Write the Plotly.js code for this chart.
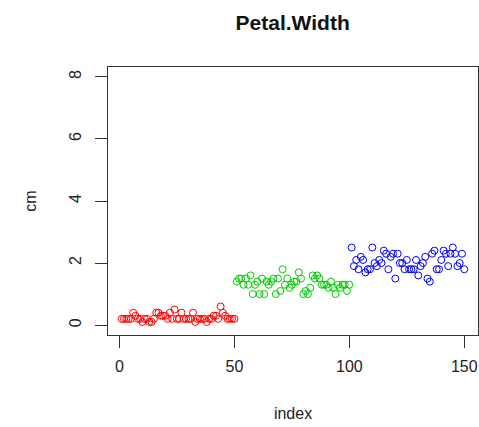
<!DOCTYPE html>
<html><head><meta charset="utf-8">
<script src="https://cdn.plot.ly/plotly-3.0.1.min.js"></script>
<style>html,body{margin:0;padding:0;background:#fff}#c{width:479px;height:427px}</style>
</head><body><div id="c"></div>
<script>
const setosa = [0.2,0.2,0.2,0.2,0.2,0.4,0.3,0.2,0.2,0.1,
0.2,0.2,0.1,0.1,0.2,0.4,0.4,0.3,0.3,0.3,
0.2,0.4,0.2,0.5,0.2,0.2,0.4,0.2,0.2,0.2,
0.2,0.4,0.1,0.2,0.2,0.2,0.2,0.1,0.2,0.2,
0.3,0.3,0.2,0.6,0.4,0.3,0.2,0.2,0.2,0.2];
const versicolor = [1.4,1.5,1.5,1.3,1.5,1.3,1.6,1.0,1.3,1.4,
1.0,1.5,1.0,1.4,1.3,1.4,1.5,1.0,1.5,1.1,
1.8,1.3,1.5,1.2,1.3,1.4,1.4,1.7,1.5,1.0,
1.1,1.0,1.2,1.6,1.5,1.6,1.5,1.3,1.3,1.3,
1.2,1.4,1.2,1.0,1.3,1.2,1.3,1.3,1.1,1.3];
const virginica = [2.5,1.9,2.1,1.8,2.2,2.1,1.7,1.8,1.8,2.5,
2.0,1.9,2.1,2.0,2.4,2.3,1.8,2.2,2.3,1.5,
2.3,2.0,2.0,1.8,2.1,1.8,1.8,1.8,2.1,1.6,
1.9,2.0,2.2,1.5,1.4,2.3,2.4,1.8,1.8,2.1,
2.4,2.3,1.9,2.3,2.5,2.3,1.9,2.0,2.3,1.8];
const groups = [setosa, versicolor, virginica];
const colors = ['#FF0000', '#00CD00', '#0000FF'];
const xTicks = [0, 50, 100, 150];
const yTicks = [0, 2, 4, 6, 8];

const traces = groups.map((vals, g) => ({
  type: 'scatter', mode: 'markers',
  x: vals.map((v, i) => g * 50 + i + 1),
  y: vals,
  marker: {symbol: 'circle-open', size: 7, color: colors[g], line: {width: 1, color: colors[g]}},
  showlegend: false, hoverinfo: 'none'
}));

const font = {family: 'Liberation Sans, Arial, sans-serif', size: 16, color: '#222'};
const layout = {
  width: 479, height: 427,
  margin: {l: 108, r: 1, t: 67, b: 92},
  paper_bgcolor: '#fff', plot_bgcolor: '#fff',
  font: font,
  title: {text: '<b>Petal.Width</b>', x: 0.611, xanchor: 'center', y: 0.948, yanchor: 'middle',
          font: {family: 'Liberation Sans, Arial, sans-serif', size: 21, color: '#111'}},
  xaxis: {range: [-4.96, 155.96], tickvals: xTicks, ticktext: xTicks.map(String),
    showgrid: false, zeroline: false, showline: true, mirror: true, linecolor: '#333', linewidth: 1,
    ticks: 'outside', ticklen: 12, tickcolor: '#333', tickfont: font, ticklabelstandoff: 5,
    title: {text: 'index', font: font, standoff: 33}},
  yaxis: {range: [-0.32, 8.32], tickvals: yTicks, ticktext: yTicks.map(String), tickangle: -90,
    showgrid: false, zeroline: false, showline: true, mirror: true, linecolor: '#333', linewidth: 1,
    ticks: 'outside', ticklen: 12, tickcolor: '#333', tickfont: font, ticklabelstandoff: 8,
    title: {text: 'cm', font: font, standoff: 25}}
};
Plotly.newPlot('c', traces, layout, {staticPlot: true, displayModeBar: false});
</script></body></html>
